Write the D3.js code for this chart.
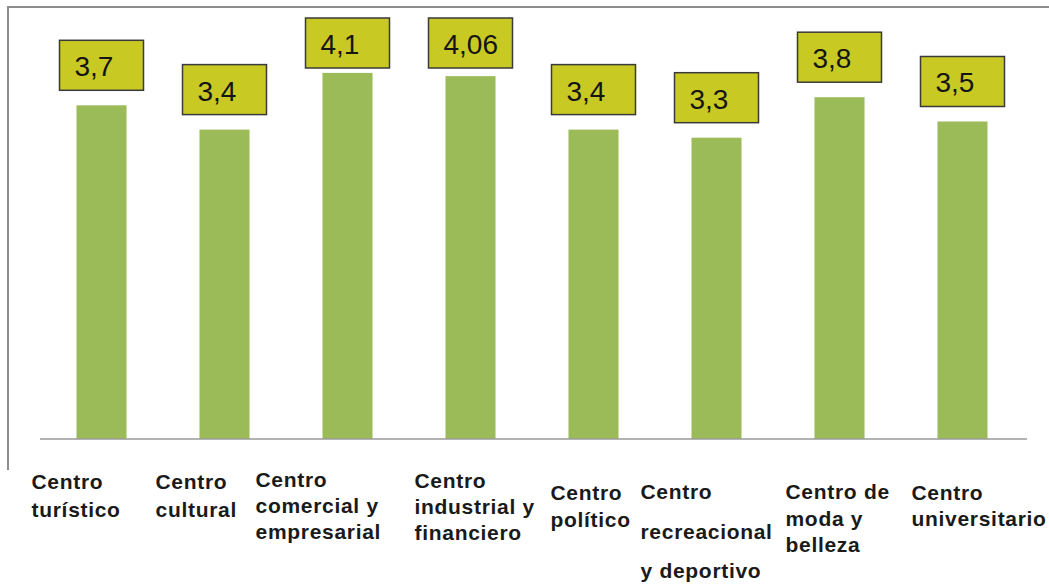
<!DOCTYPE html>
<html>
<head>
<meta charset="utf-8">
<script src="https://cdn.jsdelivr.net/npm/d3@7"></script>
<style>
  html, body { margin: 0; padding: 0; background: #ffffff; }
  svg { display: block; }
</style>
</head>
<body>
<svg id="chart" width="1049" height="586"></svg>
<script>
// ---- data ----
const categories = [
  "Centro turístico",
  "Centro cultural",
  "Centro comercial y empresarial",
  "Centro industrial y financiero",
  "Centro político",
  "Centro recreacional y deportivo",
  "Centro de moda y belleza",
  "Centro universitario"
];
const categoryLines = [
  ["Centro", "turístico"],
  ["Centro", "cultural"],
  ["Centro", "comercial y", "empresarial"],
  ["Centro", "industrial y", "financiero"],
  ["Centro", "político"],
  ["Centro", "recreacional", "y deportivo"],
  ["Centro de", "moda y", "belleza"],
  ["Centro", "universitario"]
];
const values = [3.7, 3.4, 4.1, 4.06, 3.4, 3.3, 3.8, 3.5];
const valueLabels = ["3,7", "3,4", "4,1", "4,06", "3,4", "3,3", "3,8", "3,5"];

// ---- layout (manually placed category text boxes, relative to band centre) ----
// [dx from band centre, first baseline, line gap]
const labelLayout = [
  [-70, 489, 28],
  [-69, 489, 28],
  [-92, 487, 26],
  [-56, 488, 26],
  [-43, 500, 27],
  [-76, 499, 39.5],
  [-54, 499, 26.5],
  [-51, 500, 26]
];

const svg = d3.select("#chart");

const x = d3.scaleBand()
  .domain(categories)
  .range([40, 1024])
  .paddingInner(0.593)
  .paddingOuter(0.2965);

// value axis of the original does not start at zero (bars start at the axis minimum)
const y = d3.scaleLinear()
  .domain([-0.42, 5])
  .range([439, 0]);
const base = y.range()[0];

// frame lines (top and left)
svg.append("line")
  .attr("x1", 8).attr("x2", 1049).attr("y1", 7).attr("y2", 7)
  .attr("stroke", "#8c8c8c").attr("stroke-width", 2);
svg.append("line")
  .attr("x1", 8).attr("x2", 8).attr("y1", 6).attr("y2", 470)
  .attr("stroke", "#8c8c8c").attr("stroke-width", 2);

// bars
svg.append("g").selectAll("rect")
  .data(values)
  .join("rect")
  .attr("x", (d, i) => x(categories[i]))
  .attr("width", x.bandwidth())
  .attr("y", d => y(d))
  .attr("height", d => base - y(d))
  .attr("fill", "#9bbb59");

// baseline axis
const xAxis = d3.axisBottom(x).tickSize(0).tickFormat("");
const axisG = svg.append("g")
  .attr("transform", `translate(0,${base})`)
  .call(xAxis);
axisG.select(".domain")
  .attr("d", `M40,0H1027`)
  .attr("stroke", "#9a9a9a")
  .attr("stroke-width", 1.5);

// value label boxes
const boxW = 84, boxH = 50;
const lbl = svg.append("g").selectAll("g")
  .data(values)
  .join("g")
  .attr("transform", (d, i) => {
    const cx = x(categories[i]) + x.bandwidth() / 2;
    const top = Math.max(18, y(d) - 65);
    return `translate(${cx - boxW / 2},${top})`;
  });
lbl.append("rect")
  .attr("width", boxW)
  .attr("height", boxH)
  .attr("fill", "#c9c924")
  .attr("stroke", "#3a3a3a")
  .attr("stroke-width", 1.5);
lbl.append("text")
  .attr("x", 15)
  .attr("y", 36)
  .attr("font-family", "'Liberation Sans', Arial, sans-serif")
  .attr("font-size", 28)
  .attr("fill", "#151515")
  .text((d, i) => valueLabels[i]);

// category labels
const cat = svg.append("g").selectAll("text")
  .data(categories)
  .join("text")
  .attr("font-family", "'Liberation Sans', Arial, sans-serif")
  .attr("font-weight", "bold")
  .attr("font-size", 21)
  .attr("letter-spacing", 0.7)
  .attr("fill", "#1a1a1a")
  .attr("transform", (d, i) => {
    const cx = x(d) + x.bandwidth() / 2;
    return `translate(${cx + labelLayout[i][0]},${labelLayout[i][1]})`;
  });
cat.selectAll("tspan")
  .data((d, i) => categoryLines[i].map(t => ({ t, gap: labelLayout[i][2] })))
  .join("tspan")
  .attr("x", 0)
  .attr("y", (d, j) => j * d.gap)
  .text(d => d.t);
</script>
</body>
</html>
